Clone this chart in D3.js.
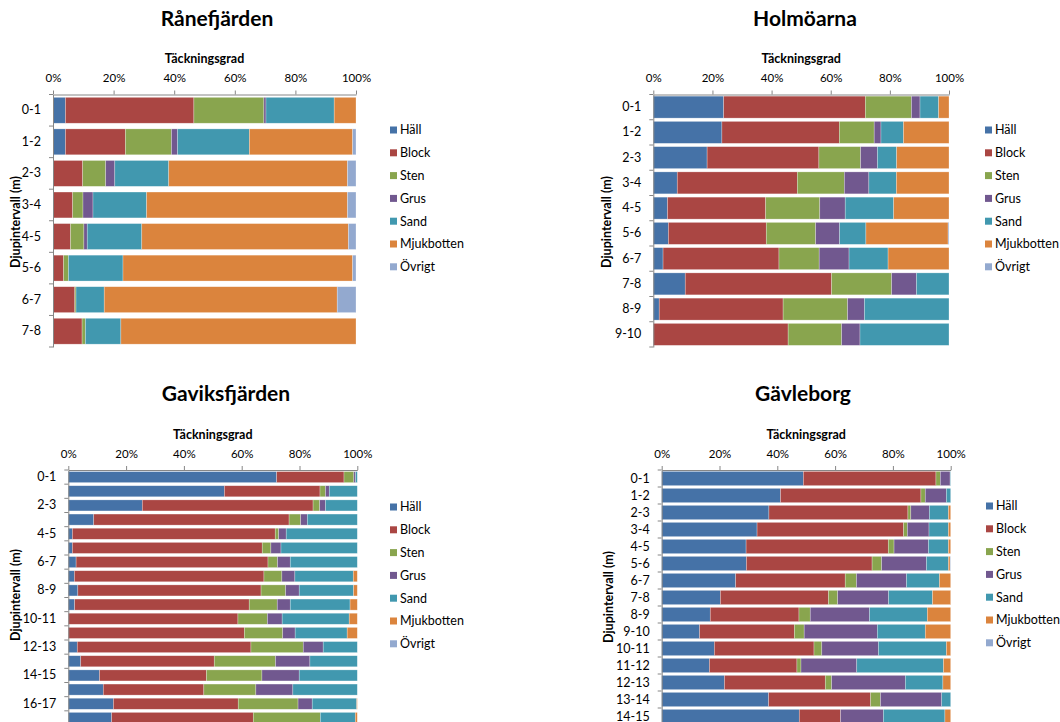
<!DOCTYPE html>
<html>
<head>
<meta charset="utf-8">
<script src="https://cdn.jsdelivr.net/npm/d3@7"></script>
<style>
  body { margin: 0; background: #fff; }
  svg { display: block; font-family: Lato, "Liberation Sans", sans-serif; }
</style>
</head>
<body>
<svg id="chart" width="1060" height="722"></svg>
<script>
// Substrate classes (stack order) and their colours
const seriesNames = ["Häll", "Block", "Sten", "Grus", "Sand", "Mjukbotten", "Övrigt"];
const seriesColors = ["#4572A7", "#AA4643", "#89A54E", "#71588F", "#4198AF", "#DB843D", "#93A9CF"];
const percentTicks = [0, 20, 40, 60, 80, 100];

// Rånefjärden – coverage (%) per depth interval
const raneDepths = ["0-1", "1-2", "2-3", "3-4", "4-5", "5-6", "6-7", "7-8"];
const raneHall   = [4.1, 4.1, 0, 0, 0, 0, 0, 0];
const raneBlock  = [42.4, 19.8, 9.8, 6.5, 5.8, 3.5, 7.2, 9.6];
const raneSten   = [23.1, 15.2, 7.6, 3.4, 4.4, 1.6, 0.4, 1.1];
const raneGrus   = [0.7, 2.0, 3.0, 3.3, 1.1, 0, 0, 0];
const raneSand   = [22.5, 23.7, 17.8, 17.7, 18.0, 18.0, 9.3, 11.7];
const raneMjuk   = [7.2, 34.1, 59.0, 66.3, 68.2, 75.8, 76.9, 77.6];
const raneOvrigt = [0, 1.1, 2.8, 2.8, 2.5, 1.1, 6.2, 0];

// Holmöarna
const holmDepths = ["0-1", "1-2", "2-3", "3-4", "4-5", "5-6", "6-7", "7-8", "8-9", "9-10"];
const holmHall   = [23.8, 23.2, 18.2, 8.1, 4.8, 5.1, 3.3, 10.8, 2.0, 0];
const holmBlock  = [47.9, 39.7, 37.8, 40.6, 33.2, 33.1, 39.2, 49.5, 41.9, 45.6];
const holmSten   = [15.6, 11.8, 14.1, 15.9, 18.3, 16.7, 13.6, 20.3, 21.8, 18.1];
const holmGrus   = [2.9, 2.3, 5.7, 8.3, 8.6, 8.1, 10.1, 8.4, 5.7, 6.2];
const holmSand   = [6.3, 7.6, 6.5, 9.3, 16.4, 8.9, 13.2, 11.0, 28.6, 30.1];
const holmMjuk   = [3.5, 15.4, 17.7, 17.8, 18.7, 27.8, 20.6, 0, 0, 0];
const holmOvrigt = [0, 0, 0, 0, 0, 0.3, 0, 0, 0, 0];

// Gaviksfjärden
const gavikDepths = ["0-1", "1-2", "2-3", "3-4", "4-5", "5-6", "6-7", "7-8", "8-9",
                     "9-10", "10-11", "11-12", "12-13", "13-14", "14-15", "15-16", "16-17", "17-18"];
const gavikHall   = [72.1, 54.0, 25.6, 8.8, 1.4, 1.4, 2.7, 2.1, 3.3, 2.2, 0, 0, 3.1, 4.3, 10.8, 12.1, 15.6, 15.0];
const gavikBlock  = [23.3, 33.1, 59.1, 67.6, 70.2, 65.7, 66.4, 65.6, 63.4, 60.4, 58.7, 60.9, 60.1, 46.2, 37.0, 34.8, 43.2, 49.0];
const gavikSten   = [3.4, 1.9, 2.3, 4.0, 1.2, 3.0, 3.3, 6.2, 8.5, 9.7, 10.2, 13.3, 18.1, 21.2, 19.2, 18.0, 20.7, 23.2];
const gavikGrus   = [0.6, 1.3, 2.0, 2.3, 2.6, 3.5, 4.4, 4.5, 4.7, 4.5, 5.1, 4.3, 6.9, 11.9, 12.9, 12.8, 4.9, 0];
const gavikSand   = [0.6, 9.7, 11.0, 17.3, 24.6, 26.4, 23.2, 20.2, 18.8, 20.7, 23.2, 18.0, 11.8, 16.4, 20.1, 22.3, 15.4, 12.1];
const gavikMjuk   = [0, 0, 0, 0, 0, 0, 0, 1.4, 1.3, 2.5, 2.8, 3.5, 0, 0, 0, 0, 0.2, 0.7];
const gavikOvrigt = [0, 0, 0, 0, 0, 0, 0, 0, 0, 0, 0, 0, 0, 0, 0, 0, 0, 0];

// Gävleborg
const gavleDepths = ["0-1", "1-2", "2-3", "3-4", "4-5", "5-6", "6-7", "7-8", "8-9",
                     "9-10", "10-11", "11-12", "12-13", "13-14", "14-15"];
const gavleHall   = [49.0, 41.1, 37.1, 33.0, 29.2, 29.3, 25.6, 20.3, 16.8, 13.1, 18.2, 16.5, 21.7, 37.0, 47.6];
const gavleBlock  = [45.9, 48.6, 48.1, 50.7, 49.2, 43.5, 37.9, 37.4, 30.7, 32.8, 34.5, 30.3, 34.9, 35.3, 14.3];
const gavleSten   = [1.5, 1.5, 1.0, 1.3, 2.0, 3.3, 3.9, 3.2, 3.9, 3.4, 2.7, 1.4, 2.2, 3.4, 0];
const gavleGrus   = [3.4, 7.3, 6.4, 7.5, 11.9, 15.5, 17.3, 17.6, 20.5, 25.3, 19.6, 19.3, 25.5, 21.2, 14.8];
const gavleSand   = [0.2, 1.5, 6.6, 6.7, 6.9, 7.6, 11.4, 15.2, 20.0, 16.6, 23.5, 30.0, 13.0, 3.1, 21.3];
const gavleMjuk   = [0, 0, 0.8, 0.8, 0.8, 0.6, 3.9, 6.3, 8.1, 8.8, 1.5, 2.5, 2.7, 0, 2.0];
const gavleOvrigt = [0, 0, 0, 0, 0, 0.2, 0, 0, 0, 0, 0, 0, 0, 0, 0];

function rowsFrom(depths, cols) {
  return depths.map((d, i) => {
    const row = { depth: d };
    seriesNames.forEach((s, k) => { row[s] = cols[k][i]; });
    return row;
  });
}

const panels = [
  {
    title: "Rånefjärden", titleX: 217, titleY: 26,
    rows: rowsFrom(raneDepths, [raneHall, raneBlock, raneSten, raneGrus, raneSand, raneMjuk, raneOvrigt]),
    x0: 53, x1: 356, y0: 94.5, y1: 347, pad: 0.18, labelEvery: 1,
    yTitleX: 20, yTitleY: 222, legendX: 390, legendY: 130
  },
  {
    title: "Holmöarna", titleX: 805, titleY: 26,
    rows: rowsFrom(holmDepths, [holmHall, holmBlock, holmSten, holmGrus, holmSand, holmMjuk, holmOvrigt]),
    x0: 653.3, x1: 949, y0: 94.5, y1: 347, pad: 0.13, labelEvery: 1,
    yTitleX: 611, yTitleY: 222, legendX: 985, legendY: 130
  },
  {
    title: "Gaviksfjärden", titleX: 226, titleY: 401,
    rows: rowsFrom(gavikDepths, [gavikHall, gavikBlock, gavikSten, gavikGrus, gavikSand, gavikMjuk, gavikOvrigt]),
    x0: 68.3, x1: 357.3, y0: 470, y1: 725, pad: 0.22, labelEvery: 2,
    yTitleX: 20, yTitleY: 595, legendX: 390, legendY: 507
  },
  {
    title: "Gävleborg", titleX: 803, titleY: 401,
    rows: rowsFrom(gavleDepths, [gavleHall, gavleBlock, gavleSten, gavleGrus, gavleSand, gavleMjuk, gavleOvrigt]),
    x0: 661.7, x1: 950.7, y0: 470, y1: 725, pad: 0.16, labelEvery: 1,
    yTitleX: 613, yTitleY: 597, legendX: 986, legendY: 506
  }
];

const svg = d3.select("#chart");
const axisGrey = "#868686";
const textColor = "#000";
const stack = d3.stack().keys(seriesNames);

panels.forEach(p => {
  const g = svg.append("g");

  const x = d3.scaleLinear().domain([0, 100]).range([p.x0, p.x1]);
  const y = d3.scaleBand()
    .domain(p.rows.map(r => r.depth))
    .range([p.y0, p.y1])
    .paddingInner(p.pad)
    .paddingOuter(p.pad / 2);

  // Panel title
  g.append("text")
    .attr("x", p.titleX).attr("y", p.titleY)
    .attr("text-anchor", "middle")
    .attr("font-size", 21).attr("font-weight", 700)
    .attr("fill", textColor)
    .text(p.title);

  // Stacked bars
  const layers = stack(p.rows);
  g.append("g").selectAll("g")
    .data(layers)
    .join("g")
    .attr("fill", (d, i) => seriesColors[i])
    .selectAll("rect")
    .data(d => d)
    .join("rect")
    .attr("x", d => x(d[0]))
    .attr("width", d => Math.max(0, x(d[1]) - x(d[0])))
    .attr("y", d => y(d.data.depth))
    .attr("height", y.bandwidth())
    .attr("stroke", "rgba(255,255,255,0.45)")
    .attr("stroke-width", 0.6);

  // Top percentage axis
  const xAxis = g.append("g")
    .attr("transform", `translate(0,${p.y0})`)
    .call(d3.axisTop(x).tickValues(percentTicks).tickFormat(d => d + "%")
      .tickSize(4).tickSizeOuter(0).tickPadding(8.5));
  xAxis.select(".domain").attr("stroke", axisGrey);
  xAxis.selectAll(".tick line").attr("stroke", axisGrey);
  xAxis.selectAll(".tick text")
    .attr("font-size", 11.5).attr("fill", textColor)
    .attr("font-family", "Lato, 'Liberation Sans', sans-serif");

  g.append("text")
    .attr("x", (p.x0 + p.x1) / 2).attr("y", p.y0 - 31.5)
    .attr("text-anchor", "middle")
    .attr("font-size", 12.5).attr("font-weight", 700)
    .attr("fill", textColor)
    .text("Täckningsgrad");

  // Left depth axis: labels at band centres, ticks on band boundaries
  const yAxis = g.append("g")
    .attr("transform", `translate(${p.x0},0)`)
    .call(d3.axisLeft(y).tickSize(0).tickSizeOuter(0).tickPadding(12)
      .tickFormat((d, i) => (i % p.labelEvery === 0 ? d : "")));
  yAxis.select(".domain").attr("stroke", axisGrey);
  yAxis.selectAll(".tick text")
    .attr("font-size", 12.5).attr("fill", textColor)
    .attr("font-family", "Lato, 'Liberation Sans', sans-serif");

  const boundaries = d3.range(p.rows.length + 1).map(i => p.y0 + i * y.step());
  g.append("g").selectAll("line")
    .data(boundaries)
    .join("line")
    .attr("x1", p.x0 - 4).attr("x2", p.x0)
    .attr("y1", d => d).attr("y2", d => d)
    .attr("stroke", axisGrey);

  g.append("text")
    .attr("transform", `translate(${p.yTitleX},${p.yTitleY}) rotate(-90)`)
    .attr("text-anchor", "middle")
    .attr("font-size", 12.5).attr("font-weight", 700)
    .attr("fill", textColor)
    .text("Djupintervall (m)");

  // Legend
  const legend = g.append("g").selectAll("g")
    .data(seriesNames)
    .join("g")
    .attr("transform", (d, i) => `translate(${p.legendX},${p.legendY + i * 22.8})`);
  legend.append("rect")
    .attr("x", 0).attr("y", -3.5)
    .attr("width", 7).attr("height", 7)
    .attr("fill", (d, i) => seriesColors[i]);
  legend.append("text")
    .attr("x", 10).attr("y", 0).attr("dy", "0.35em")
    .attr("font-size", 12.5).attr("fill", textColor)
    .text(d => d);
});
</script>
</body>
</html>
